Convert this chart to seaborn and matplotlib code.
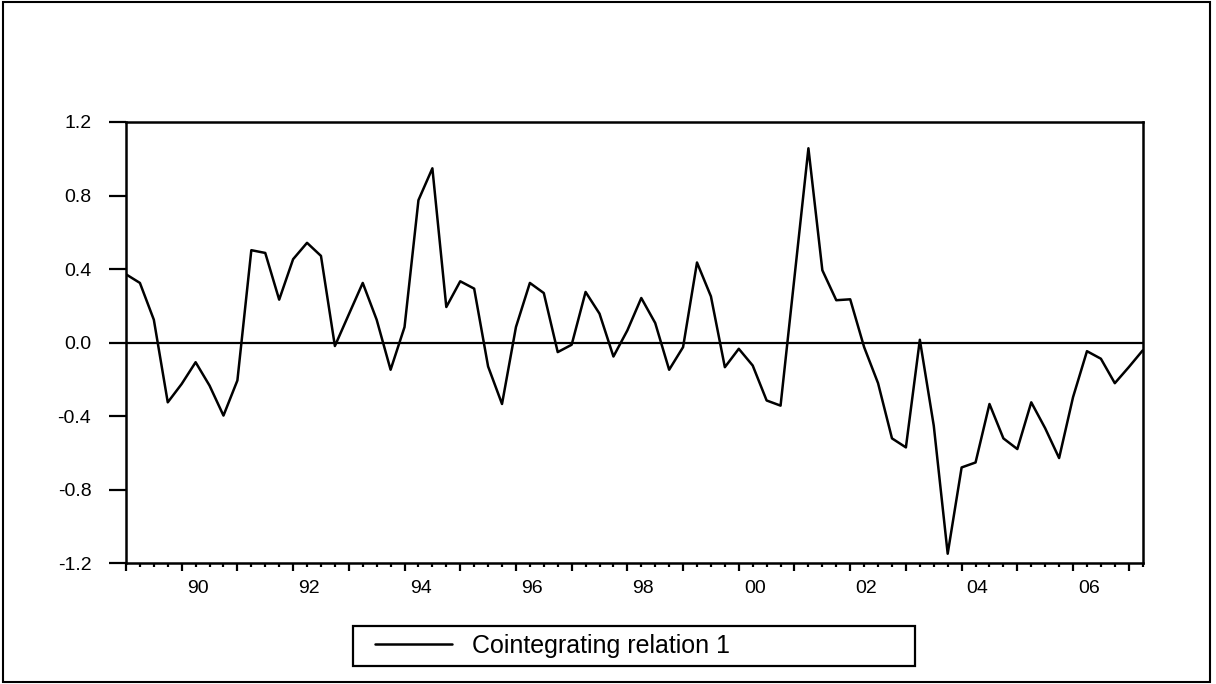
import matplotlib
matplotlib.use("Agg")
import matplotlib.pyplot as plt
import matplotlib.transforms as mtransforms
from matplotlib.patches import Rectangle
import numpy as np
import pandas as pd
import seaborn as sns

# ---------------- data ----------------
start_year = 1989
periods_per_year = 4
series_name = "Cointegrating relation 1"
values = [
    0.372, 0.325, 0.125, -0.324, -0.224, -0.106, -0.233, -0.396, -0.205, 0.503,
    0.488, 0.234, 0.454, 0.543, 0.472, -0.018, 0.154, 0.325, 0.125, -0.147,
    0.085, 0.775, 0.948, 0.194, 0.334, 0.294, -0.129, -0.333, 0.085, 0.325,
    0.270, -0.051, -0.011, 0.276, 0.158, -0.075, 0.067, 0.243, 0.107, -0.147,
    -0.024, 0.436, 0.252, -0.133, -0.033, -0.124, -0.314, -0.342, 0.357, 1.057,
    0.394, 0.231, 0.236, -0.024, -0.220, -0.520, -0.569, 0.016, -0.451, -1.147,
    -0.678, -0.651, -0.333, -0.520, -0.578, -0.324, -0.465, -0.627, -0.296, -0.046,
    -0.087, -0.220, -0.133, -0.042,
]
label_years = [1990, 1992, 1994, 1996, 1998, 2000, 2002, 2004, 2006]
year_labels = ["90", "92", "94", "96", "98", "00", "02", "04", "06"]
yticks = [-1.2, -0.8, -0.4, 0.0, 0.4, 0.8, 1.2]
ytick_labels = ["-1.2", "-0.8", "-0.4", "0.0", "0.4", "0.8", "1.2"]

time = start_year + np.arange(len(values)) / periods_per_year
df = pd.DataFrame({"time": time, "value": values, "series": series_name})

# ---------------- style ----------------
sns.set_theme(style="ticks", rc={
    "axes.edgecolor": "black",
    "text.color": "black",
    "xtick.color": "black",
    "ytick.color": "black",
    "axes.labelcolor": "black",
})
plt.rcParams["font.family"] = ["Liberation Sans", "DejaVu Sans"]

W, H = 1216, 684
fig = plt.figure(figsize=(W / 100, H / 100), dpi=100)
ax = fig.add_axes([0.1036, 0.1762, 0.8361, 0.6455])

sns.lineplot(data=df, x="time", y="value", hue="series", palette=["black"],
             linewidth=1.8, ax=ax)
ax.axhline(0, color="black", linewidth=1.6, zorder=1)

ax.set_xlim(time[0], time[-1])
ax.set_ylim(yticks[0], yticks[-1])
ax.set_xlabel("")
ax.set_ylabel("")

for s in ax.spines.values():
    s.set_linewidth(1.8)
    s.set_visible(True)

# x ticks: major every year, labels every two years, minor every quarter
years = np.arange(start_year, int(np.floor(time[-1])) + 1)
lab_map = dict(zip(label_years, year_labels))
ax.set_xticks(years)
ax.set_xticklabels([lab_map.get(int(y), "") for y in years])
ax.set_xticks(time, minor=True)
ax.tick_params(axis="x", which="major", direction="out", length=6, width=1.6,
               labelsize=14, pad=6)
ax.tick_params(axis="x", which="minor", direction="out", length=3, width=1.6)
offset = mtransforms.ScaledTranslation(0.16, 0, fig.dpi_scale_trans)
for lab in ax.get_xticklabels():
    lab.set_transform(lab.get_transform() + offset)

ax.set_yticks(yticks)
ax.set_yticklabels(ytick_labels)
ax.tick_params(axis="y", which="major", direction="out", length=12, width=1.6,
               labelsize=14, pad=13)

# legend (frame drawn separately to match the reference box)
fs = 18
ax.legend(loc="center left", bbox_to_anchor=(369 / W, 1 - 646 / H),
          bbox_transform=fig.transFigure, frameon=False, fontsize=fs,
          handlelength=3.05, handletextpad=0.8, borderpad=0.25,
          borderaxespad=0)
leg = ax.get_legend()
for h in leg.get_lines():
    h.set_linewidth(1.8)
fig.patches.append(Rectangle((353 / W, 1 - 666 / H), 562 / W, 40 / H, fill=False,
                             edgecolor="black", linewidth=1.6,
                             transform=fig.transFigure, figure=fig))

# outer frame
fig.patches.append(Rectangle((0.0025, 0.0029), 0.9926, 0.9949, fill=False,
                             edgecolor="black", linewidth=1.5,
                             transform=fig.transFigure, figure=fig))

fig.savefig("out.png", dpi=100)
